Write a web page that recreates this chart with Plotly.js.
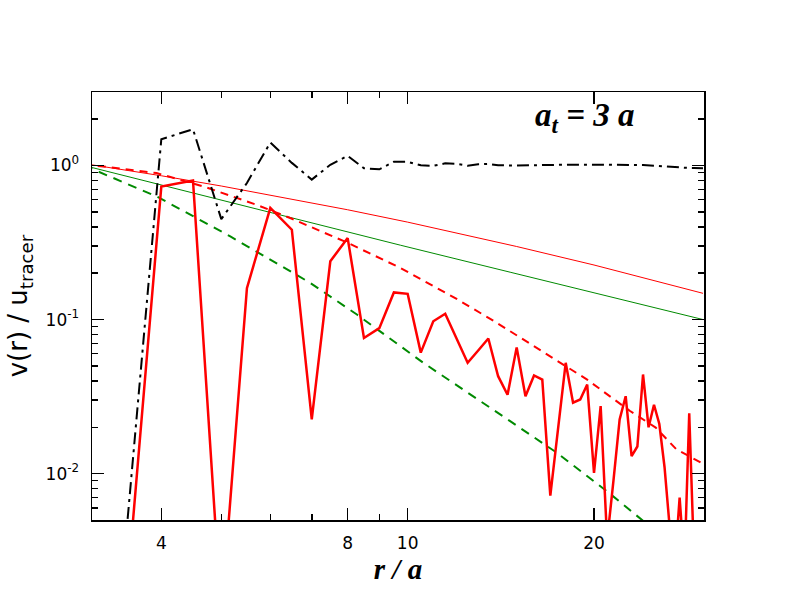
<!DOCTYPE html>
<html><head><meta charset="utf-8">
<script src="https://cdn.plot.ly/plotly-3.0.1.min.js"></script>
<style>html,body{margin:0;padding:0;background:#fff}#chart{width:792px;height:612px}</style>
</head><body><div id="chart"></div>
<script>
// simulation (thick red solid), r/a at 0.5 spacing
const redSolidR = [3.5,4,4.5,5,5.5,6,6.5,7,7.5,8,8.5,9,9.5,10,10.5,11,11.5,12,12.5,13,13.5,14,14.5,15,15.5,16,16.5,17,17.5,18,18.5,19,19.5,20,20.5,21,21.5,22,22.5,23,23.5,24,24.5,25,25.5,26,26.5,27,27.5,28,28.5,29];
const redSolidV = [0.0013,0.73,0.80,0.0012,0.16,0.53,0.383,0.0225,0.239,0.338,0.076,0.088,0.150,0.147,0.061,0.0975,0.109,0.075,0.0524,0.063,0.0753,0.0429,0.0325,0.066,0.0318,0.0434,0.0408,0.0072,0.020,0.0524,0.0289,0.0303,0.0379,0.0101,0.0274,0.0037,0.009,0.0225,0.0318,0.013,0.015,0.044,0.020,0.028,0.021,0.011,0.0045,0.0025,0.007,0.0025,0.0246,0.003];
// black dash-dot
const blackR = [3.5,4,4.5,5,5.5,6,6.5,7,7.5,8,8.5,9,9.5,10,10.5,11,11.5,12,12.5,13,13.5,14,15,16,17,18,19,20,21,22,23,24,25,26,27,28,29,30];
const blackV = [0.0035,1.48,1.72,0.449,0.77,1.41,1.04,0.81,1.01,1.156,0.96,0.945,1.057,1.057,1.003,0.996,1.033,1.025,0.996,1.018,1.025,1.003,1.0,1.008,1.01,1.012,1.012,1.012,1.012,1.012,1.012,1.008,0.998,0.985,0.975,0.968,0.963,0.96];
// thin red solid
const redThinR = [3,4,5,6,7,8,10,12,15,20,25,30];
const redThinV = [1.029,0.858,0.736,0.644,0.573,0.516,0.429,0.365,0.298,0.226,0.180,0.148];
// thin green solid
const greenThinR = [3,4.51,6.46,9.73,14.64,20.46,25.6,30];
const greenThinV = [1.0,0.662,0.456,0.304,0.203,0.146,0.117,0.100];
// red dashed
const redDashR = [3,3.93,4.68,5.70,6.46,7.97,9.72,12.0,13.75,17.41,19.47,21.49,22.87,25.16,27.16,30];
const redDashV = [1.02,0.893,0.731,0.556,0.456,0.317,0.217,0.136,0.0984,0.0545,0.0409,0.0306,0.0255,0.0199,0.0144,0.0116];
// green dashed
const greenDashR = [3,3.93,5.17,6.96,8.28,10.6,14.64,17.41,20.97,23.74,26];
const greenDashV = [1.0,0.630,0.3467,0.173,0.1078,0.0524,0.0219,0.01368,0.0077,0.0051,0.0038];

const xTickVals = [4,8,10,20];
const xTickText = ['4','8','10','20'];
const xMinorVals = [5,6,7,9];
const yTickVals = [1,0.1,0.01];
const yTickText = ['10<sup>0</sup>','10<sup>-1</sup>','10<sup>-2</sup>'];
const yMinorVals = [2,0.9,0.8,0.7,0.6,0.5,0.4,0.3,0.2,0.09,0.08,0.07,0.06,0.05,0.04,0.03,0.02,0.009,0.008,0.007,0.006];

const X_RANGE = [0.4901, 1.4787];
const Y_RANGE = [Math.log10(0.005), Math.log10(3)];

const RED = '#ff0000', GREEN = '#008a00';
const traces = [
  {x: redThinR, y: redThinV, mode:'lines', line:{color:RED, width:1}},
  {x: greenThinR, y: greenThinV, mode:'lines', line:{color:GREEN, width:1}},
  {x: redDashR, y: redDashV, mode:'lines', line:{color:RED, width:2, dash:'8px,6px'}},
  {x: greenDashR, y: greenDashV, mode:'lines', line:{color:GREEN, width:2, dash:'9px,7px'}},
  {x: blackR, y: blackV, mode:'lines', line:{color:'black', width:2, dash:'12px,5px,3px,5px'}},
  {x: redSolidR, y: redSolidV, mode:'lines', line:{color:RED, width:2.5}},
  // empty traces on the overlay axes that carry the visible major / minor ticks
  {x: [], y: [], xaxis:'x2', yaxis:'y2', mode:'lines', hoverinfo:'skip'},
  {x: [], y: [], xaxis:'x3', yaxis:'y3', mode:'lines', hoverinfo:'skip'}
];

const SANS = 'DejaVu Sans, Liberation Sans, sans-serif';
const SERIF = 'Liberation Serif, Times New Roman, serif';
const TICKFONT = {family:SANS, size:17, color:'black'};

function tickAxis(over, anchor, range, vals, len) {
  return {type:'log', overlaying:over, anchor:anchor, range:range, tickmode:'array', tickvals:vals,
    ticks:'inside', ticklen:len, tickwidth:1.5, tickcolor:'black', showticklabels:false,
    showline:true, linecolor:'black', linewidth:1.5, mirror:'allticks', showgrid:false, zeroline:false};
}

const layout = {
  width:792, height:612, showlegend:false,
  paper_bgcolor:'white', plot_bgcolor:'white',
  margin:{l:92, r:88, t:92, b:92},
  xaxis: {
    type:'log', range:X_RANGE, tickmode:'array', tickvals:xTickVals, ticktext:xTickText,
    ticks:'outside', ticklen:7, tickcolor:'rgba(0,0,0,0)',
    showline:true, linecolor:'black', linewidth:1.5, mirror:true, showgrid:false, zeroline:false,
    tickfont:TICKFONT,
    title:{text:'<b><i>r / a</i></b>', font:{family:SERIF, size:29, color:'black'}, standoff:4}
  },
  yaxis: {
    type:'log', range:Y_RANGE, tickmode:'array', tickvals:yTickVals, ticktext:yTickText,
    ticks:'outside', ticklen:8, tickcolor:'rgba(0,0,0,0)',
    showline:true, linecolor:'black', linewidth:1.5, mirror:true, showgrid:false, zeroline:false,
    tickfont:TICKFONT,
    title:{text:'v(r) / u<sub>tracer</sub>', font:{family:SANS, size:26, color:'black'}, standoff:10}
  },
  xaxis2: tickAxis('x', 'y2', X_RANGE, xTickVals, 12),
  yaxis2: tickAxis('y', 'x2', Y_RANGE, yTickVals, 12),
  xaxis3: tickAxis('x', 'y3', X_RANGE, xMinorVals, 6),
  yaxis3: tickAxis('y', 'x3', Y_RANGE, yMinorVals, 6),
  annotations:[{
    xref:'paper', yref:'paper', x:0.8047, y:0.94, xanchor:'center', yanchor:'middle', showarrow:false,
    text:'<b><i>a<sub>t</sub> = 3 a</i></b>',
    font:{family:SERIF, size:33, color:'black'}
  }]
};

Plotly.newPlot('chart', traces, layout, {displayModeBar:false, staticPlot:true});
</script></body></html>
